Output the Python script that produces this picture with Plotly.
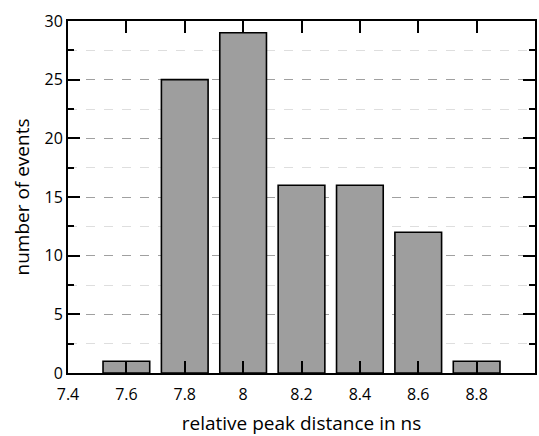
import plotly.graph_objects as go

bin_centers = [7.6, 7.8, 8.0, 8.2, 8.4, 8.6, 8.8]
counts = [1, 25, 29, 16, 16, 12, 1]
x_ticks = [7.4, 7.6, 7.8, 8.0, 8.2, 8.4, 8.6, 8.8]
x_tick_labels = ["7.4", "7.6", "7.8", "8", "8.2", "8.4", "8.6", "8.8"]
y_ticks = [0, 5, 10, 15, 20, 25, 30]

fig = go.Figure()
fig.add_trace(go.Bar(
    x=bin_centers, y=counts, width=0.16,
    marker=dict(color="#9e9e9e", line=dict(color="black", width=1.6)),
))

font = dict(family="Open Sans, DejaVu Sans, sans-serif", size=16, color="black")
fig.update_layout(
    width=539, height=436,
    margin=dict(l=68, r=2, t=21, b=63),
    plot_bgcolor="white", paper_bgcolor="white",
    showlegend=False,
    font=font,
    xaxis=dict(
        range=[7.4, 9.0], tickmode="array", tickvals=x_ticks, ticktext=x_tick_labels,
        ticks="inside", ticklen=12, tickwidth=2, tickcolor="black",
        showline=True, linewidth=2, linecolor="black", mirror="ticks",
        showgrid=False, zeroline=False, ticklabelstandoff=6,
        title=dict(text="relative peak distance in ns", standoff=12),
    ),
    yaxis=dict(
        range=[0, 30], tickmode="array", tickvals=y_ticks,
        ticks="inside", ticklen=12, tickwidth=2, tickcolor="black",
        showline=True, linewidth=2, linecolor="black", mirror="ticks",
        showgrid=True, gridcolor="#a0a0a0", gridwidth=1, griddash="dash",
        zeroline=False,
        title=dict(text="number of events", standoff=10),
    ),
)
fig.update_yaxes(minor=dict(tickmode="linear", tick0=0, dtick=2.5, ticks="inside", ticklen=6,
                            tickwidth=2, tickcolor="black",
                            showgrid=True, gridcolor="#dedede", gridwidth=1, griddash="dash"))

fig.write_html("out.html")
